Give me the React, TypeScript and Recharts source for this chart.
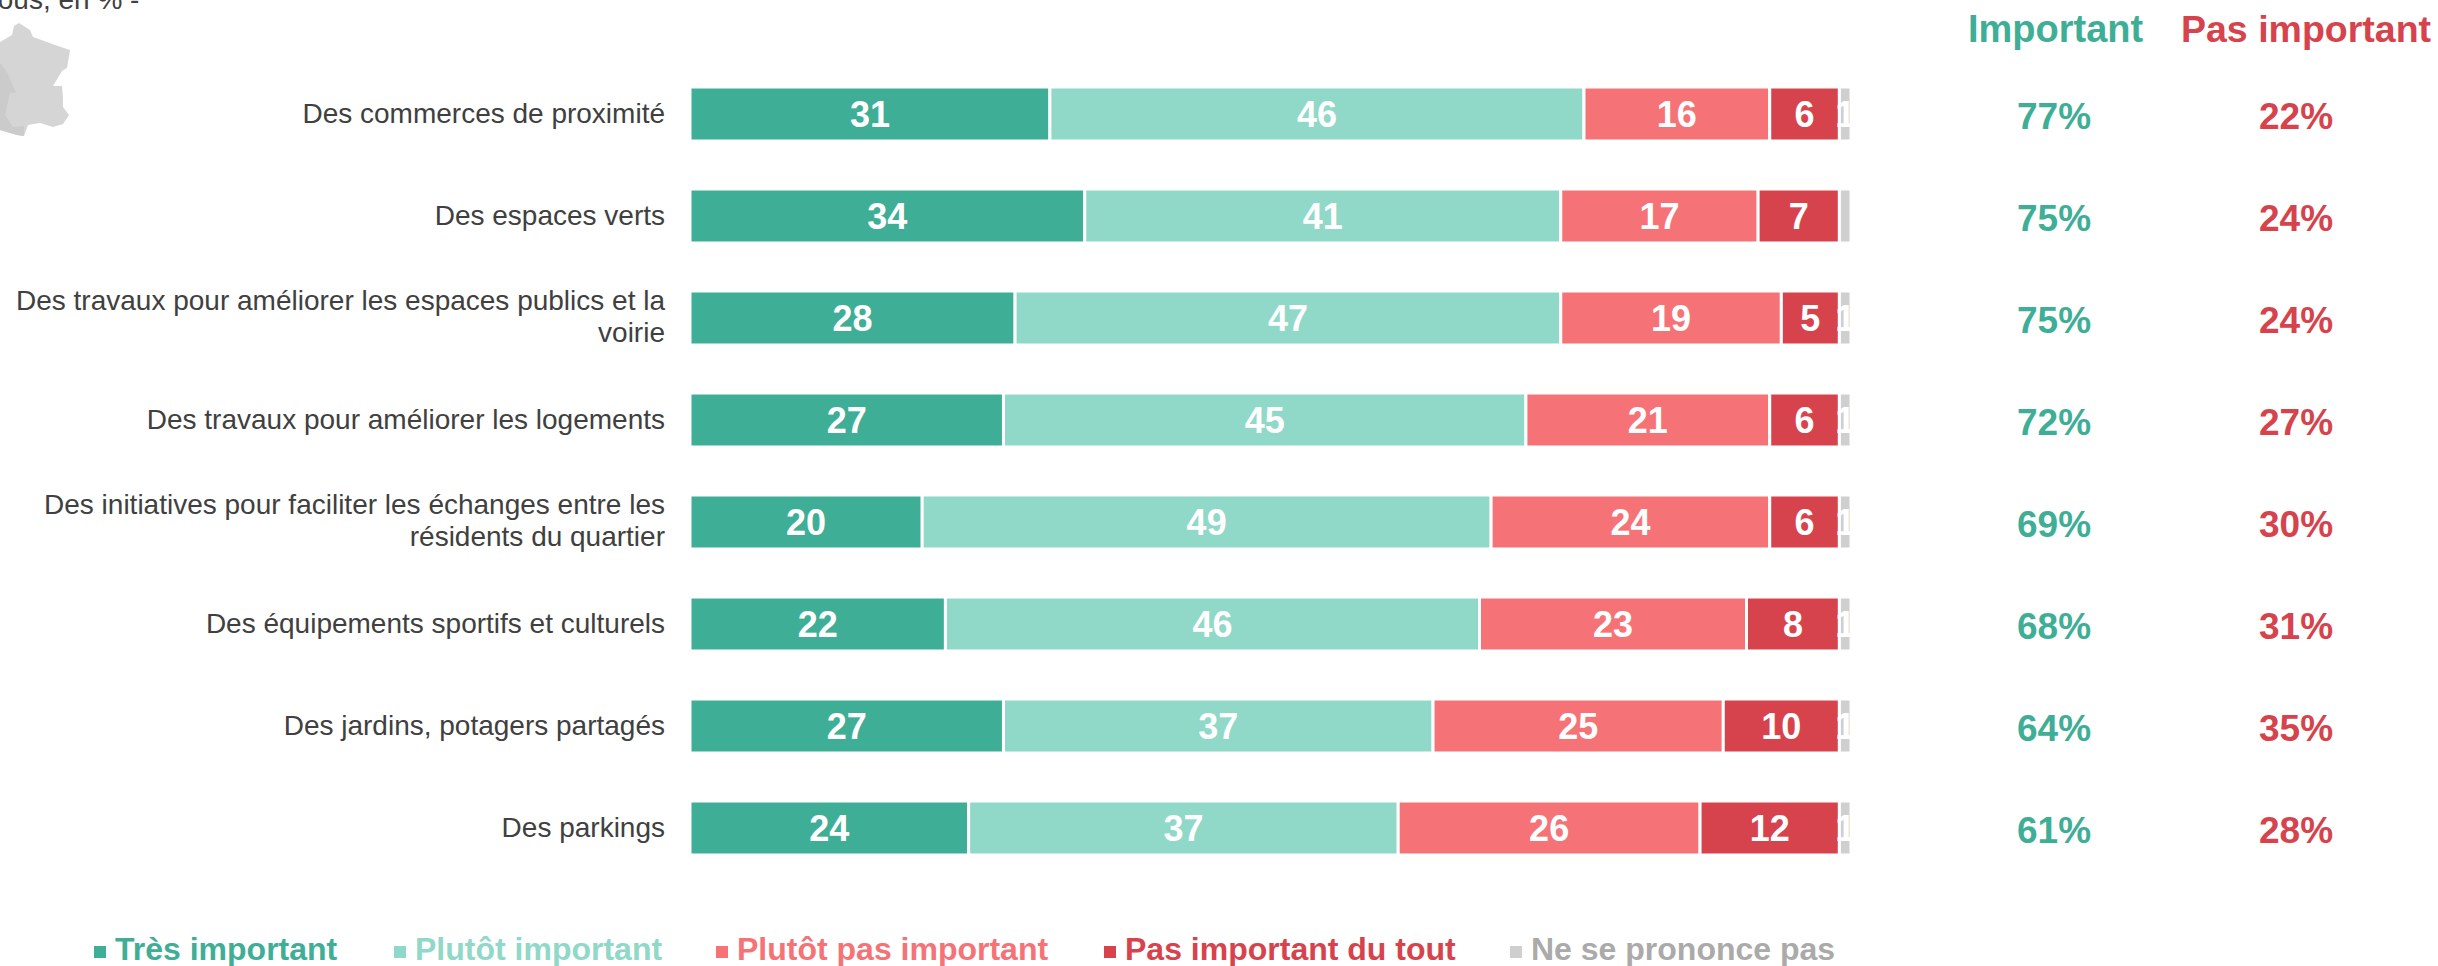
import { Bar, BarChart, LabelList, Legend, XAxis, YAxis } from 'recharts';

const categories = [
  ['Des commerces de proximité'],
  ['Des espaces verts'],
  ['Des travaux pour améliorer les espaces publics et la', 'voirie'],
  ['Des travaux pour améliorer les logements'],
  ['Des initiatives pour faciliter les échanges entre les', 'résidents du quartier'],
  ['Des équipements sportifs et culturels'],
  ['Des jardins, potagers partagés'],
  ['Des parkings'],
];
const tresImportant = [31, 34, 28, 27, 20, 22, 27, 24];
const plutotImportant = [46, 41, 47, 45, 49, 46, 37, 37];
const plutotPasImportant = [16, 17, 19, 21, 24, 23, 25, 26];
const pasImportantDuTout = [6, 7, 5, 6, 6, 8, 10, 12];
const nsp = [1, 1, 1, 1, 1, 1, 1, 1];
// the second row's grey segment carries no label in the original
const nspLabels = ['1', '', '1', '1', '1', '1', '1', '1'];
const totalImportant = [77, 75, 75, 72, 69, 68, 64, 61];
const totalPasImportant = [22, 24, 24, 27, 30, 31, 35, 28];

const GREEN = '#3fae96';
const RED = '#d6434c';
const FONT = '"Liberation Sans", Arial, sans-serif';

const rows = categories.map((lines, i) => ({
  name: lines.join(' '),
  a: tresImportant[i],
  b: plutotImportant[i],
  c: plutotPasImportant[i],
  d: pasImportantDuTout[i],
  e: nsp[i],
  eLabel: nspLabels[i],
}));

function CategoryTick({ x, y, index }: any) {
  const lines = categories[index];
  const top = lines.length === 1 ? 0 : -17;
  return (
    <text x={x} y={y} textAnchor="end" fontFamily={FONT} fontSize={28} fill="#404040">
      {lines.map((line, i) => (
        <tspan key={line} x={x} y={y + top + i * 32 + 9}>
          {line}
        </tspan>
      ))}
    </text>
  );
}

// the two total columns sit on the right of each row
function TotalsLabel({ y, height, index }: any) {
  const cy = y + height / 2 + 15;
  return (
    <g fontFamily={FONT} fontSize={37} fontWeight="bold" textAnchor="middle">
      <text x={2054} y={cy} fill={GREEN}>
        {totalImportant[index]}%
      </text>
      <text x={2296} y={cy} fill={RED}>
        {totalPasImportant[index]}%
      </text>
    </g>
  );
}

function LegendRow({ payload }: any) {
  return (
    <div style={{ position: 'relative', height: 36, fontFamily: FONT }}>
      {payload.map((entry: any, i: number) => (
        <span
          key={entry.value}
          style={{
            position: 'absolute',
            left: [94, 394, 716, 1104, 1510][i],
            top: 0,
            whiteSpace: 'nowrap',
            fontSize: 32,
            fontWeight: 'bold',
            color: i === 4 ? '#aaaaaa' : entry.color,
          }}
        >
          <span
            style={{
              display: 'inline-block',
              width: 12,
              height: 12,
              marginRight: 9,
              verticalAlign: 'middle',
              background: entry.color,
            }}
          />
          {entry.value}
        </span>
      ))}
    </div>
  );
}

const segments = [
  { key: 'a', label: 'Très important', color: GREEN },
  { key: 'b', label: 'Plutôt important', color: '#90d8c8' },
  { key: 'c', label: 'Plutôt pas important', color: '#f57376' },
  { key: 'd', label: 'Pas important du tout', color: RED },
  { key: 'e', label: 'Ne se prononce pas', color: '#cfcfcf' },
];

export default function App() {
  return (
    <div
      style={{
        position: 'absolute',
        left: 0,
        top: 0,
        width: 2438,
        height: 966,
        overflow: 'hidden',
        background: '#fff',
        fontFamily: FONT,
      }}
    >
      <BarChart
        width={2438}
        height={966}
        data={rows}
        layout="vertical"
        barSize={54}
        margin={{ top: 63, right: 587, bottom: 51, left: 0 }}
      >
        <XAxis type="number" domain={[0, 100]} hide />
        <YAxis
          type="category"
          dataKey="name"
          width={690}
          axisLine={false}
          tickLine={false}
          tickMargin={0}
          tick={(props: any) => <CategoryTick {...props} x={665} />}
          interval={0}
        />
        <Legend
          content={<LegendRow />}
          itemSorter="dataKey"
          wrapperStyle={{ left: 0, top: 931, width: 2438, height: 36 }}
        />
        {segments.map((s) => (
          <Bar
            key={s.key}
            dataKey={s.key}
            name={s.label}
            stackId="all"
            fill={s.color}
            stroke="#fff"
            strokeWidth={3}
            isAnimationActive={false}
          >
            <LabelList
              dataKey={s.key === 'e' ? 'eLabel' : s.key}
              position="center"
              fill="#fff"
              fontFamily={FONT}
              fontSize={36}
              fontWeight="bold"
            />
            {s.key === 'e' && <LabelList content={<TotalsLabel />} />}
          </Bar>
        ))}
      </BarChart>
      <div style={{ position: 'absolute', left: 1968, top: 8, fontSize: 38, fontWeight: 'bold', color: GREEN, whiteSpace: 'nowrap' }}>
        Important
      </div>
      <div style={{ position: 'absolute', left: 2181, top: 8, fontSize: 37.5, fontWeight: 'bold', color: RED, whiteSpace: 'nowrap' }}>
        Pas important
      </div>
      <div style={{ position: 'absolute', left: -10, top: -16, fontSize: 28, color: '#404040', whiteSpace: 'nowrap' }}>
        tous, en % -
      </div>
      <svg style={{ position: 'absolute', left: 0, top: 0 }} width={80} height={145}>
        <path
          d="M0 42L12 35L14 26L19 23L30 30L33 37L47 42L55 45L70 50L67 68L62 71L53 86L62 86L63 98L63 107L69 115L63 124L53 127L40 123L28 125L24 136L17 135L0 130Z"
          fill="#d5d5d5"
        />
        <path d="M0 63L7 72L16 93L10 93L5 115L13 127L24 126L24 136L17 135L0 130Z" fill="#cbcbcb" />
      </svg>
    </div>
  );
}
